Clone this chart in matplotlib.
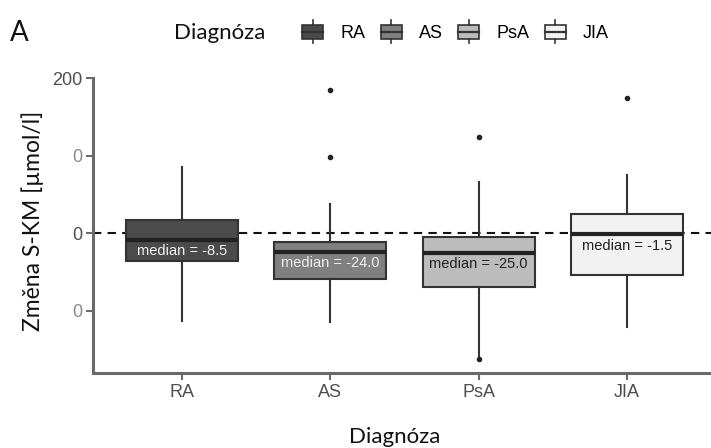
import matplotlib
matplotlib.use("Agg")
import matplotlib.pyplot as plt
from matplotlib.patches import Rectangle
from matplotlib.lines import Line2D
from matplotlib.legend_handler import HandlerBase

# data
kategorie = ['RA', 'AS', 'PsA', 'JIA']
q1 = [-36, -59, -69, -54]
mediany = [-8.5, -24.0, -25.0, -1.5]
q3 = [17, -11, -5, 25]
vous_dolni = [-113, -114, -163, -121]
vous_horni = [86, 38, 66, 75]
odlehle = [[], [185, 98], [125, -163], [175]]

barvy = ['#4b4b4b', '#808080', '#bcbcbc', '#f2f2f2']
barvy_textu = ['#f0f0f0', '#eeeeee', '#222222', '#222222']
yticks = [200, 100, 0, -100]
ytick_labels = ['200', '0', '0', '0']

SEDA = '#6a6a6a'
OKRAJ = '#333333'


class HandlerBox(HandlerBase):
    """boxplot glyph in legend"""
    def create_artists(self, legend, orig_handle, xdescent, ydescent,
                       width, height, fontsize, trans):
        x0, y0 = -xdescent, -ydescent
        fc = orig_handle.get_facecolor()
        rect = Rectangle((x0, y0 + 0.12 * height), width, 0.76 * height,
                         facecolor=fc, edgecolor=OKRAJ, lw=1.2, transform=trans)
        med = Line2D([x0, x0 + width], [y0 + 0.5 * height] * 2,
                     color=OKRAJ, lw=1.6, transform=trans)
        w1 = Line2D([x0 + width / 2] * 2, [y0 - 0.12 * height, y0 + 0.12 * height],
                    color=OKRAJ, lw=1.2, transform=trans)
        w2 = Line2D([x0 + width / 2] * 2, [y0 + 0.88 * height, y0 + 1.12 * height],
                    color=OKRAJ, lw=1.2, transform=trans)
        return [rect, med, w1, w2]


fig = plt.figure(figsize=(7.11, 4.48), dpi=100)
ax = fig.add_axes([93 / 711, 75 / 448, 618 / 711, 294.5 / 448])

stats = []
for i, k in enumerate(kategorie):
    stats.append(dict(label=k, med=mediany[i], q1=q1[i], q3=q3[i],
                      whislo=vous_dolni[i], whishi=vous_horni[i],
                      fliers=odlehle[i]))

ax.axhline(0, color='#111111', lw=1.5, ls=(0, (4, 3)), zorder=1)

bp = ax.bxp(stats, positions=range(1, 5), widths=0.755, patch_artist=True,
            showcaps=False,
            boxprops=dict(edgecolor=OKRAJ, lw=1.5),
            whiskerprops=dict(color=OKRAJ, lw=1.5),
            medianprops=dict(color='#222222', lw=3.0),
            flierprops=dict(marker='o', markersize=3, markerfacecolor='#222222',
                            markeredgecolor='#222222'),
            zorder=2)
for patch, c in zip(bp['boxes'], barvy):
    patch.set_facecolor(c)

for i in range(len(kategorie)):
    ax.text(i + 1, mediany[i] - 15, f'median = {mediany[i]:.1f}',
            ha='center', va='center', fontsize=10.5, color=barvy_textu[i],
            family='Liberation Sans', zorder=3)

ax.set_xlim(0.4, 4.566)
ax.set_ylim(-180.5, 200)
ax.set_xticks(range(1, 5))
ax.set_xticklabels(kategorie, family='Liberation Sans', fontsize=13)
ax.set_yticks(yticks)
ax.set_yticklabels(ytick_labels, family='Liberation Sans', fontsize=13)
ax.tick_params(colors=SEDA, width=1.5, length=5, pad=3)
ax.tick_params(axis='both', labelcolor='#4d4d4d')
for t, v in zip(ax.get_yticklabels(), yticks):
    if v in (100, -100):
        t.set_color('#8a8a8a')

for s in ['top', 'right']:
    ax.spines[s].set_visible(False)
for s in ['left', 'bottom']:
    ax.spines[s].set_color(SEDA)
    ax.spines[s].set_linewidth(2.2)

# popisky os (vlozene jinym pismem)
fig.text(33 / 711, 1 - 221 / 448, 'Změna S-KM [µmol/l]', family='Lato',
         fontsize=16.5, rotation=90, ha='center', va='center', color='#111111')
fig.text(395 / 711, 1 - 437 / 448, 'Diagnóza', family='Lato', fontsize=16,
         ha='center', va='center', color='#111111')

# hlavicka
fig.text(10 / 711, 1 - 33 / 448, 'A', family='Lato', fontsize=20, ha='left',
         va='center', color='#111111')
fig.text(174 / 711, 1 - 33 / 448, 'Diagnóza', family='Lato', fontsize=16,
         ha='left', va='center', color='#111111')

handles = [Rectangle((0, 0), 1, 1, facecolor=c) for c in barvy]
leg = fig.legend(handles, kategorie, loc='center left',
                 bbox_to_anchor=(302 / 711, 1 - 32 / 448), ncol=4, frameon=False,
                 handler_map={Rectangle: HandlerBox()},
                 prop=dict(family='Liberation Sans', size=13),
                 handlelength=1.17, handleheight=1.2, handletextpad=0.95,
                 columnspacing=0.85, borderaxespad=0, borderpad=0)

fig.savefig('out.png', dpi=100)
